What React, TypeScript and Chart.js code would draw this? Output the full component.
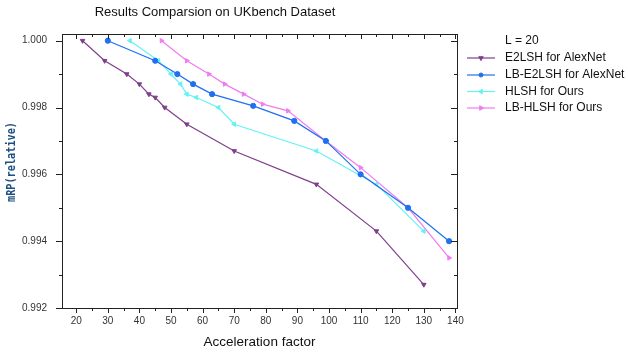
import React, { useEffect, useRef } from "react";
import { Chart, registerables } from "chart.js";

Chart.register(...registerables);

const TITLE = "Results Comparsion on UKbench Dataset";
const X_TITLE = "Acceleration factor";
const Y_TITLE_BOLD = "mRP";
const Y_TITLE_REST = "(relative)";
const LEGEND_HEADER = "L = 20";

const X_TICKS = [20, 30, 40, 50, 60, 70, 80, 90, 100, 110, 120, 130, 140];
const Y_TICKS = [0.992, 0.994, 0.996, 0.998, 1.0];

const SERIES_NAMES = ["E2LSH for AlexNet", "LB-E2LSH for AlexNet", "HLSH for Ours", "LB-HLSH for Ours"];
const SERIES_COLORS = ["#7f3f8c", "#1f6ff2", "#66f2f2", "#f07cf0"];

const E2LSH_X = [22, 29, 36, 40, 43, 45, 48, 55, 70, 96, 115, 130];
const E2LSH_Y = [1.0, 0.9994, 0.999, 0.9987, 0.9984, 0.9983, 0.998, 0.9975, 0.9967, 0.9957, 0.9943, 0.9927];

const LBE2LSH_X = [30, 45, 52, 57, 63, 76, 89, 99, 110, 125, 138];
const LBE2LSH_Y = [1.0, 0.9994, 0.999, 0.9987, 0.9984, 0.99805, 0.9976, 0.997, 0.996, 0.995, 0.994];

const HLSH_X = [37, 46, 50, 53, 55, 58, 65, 70, 96, 115, 130];
const HLSH_Y = [1.0, 0.9994, 0.999, 0.9987, 0.9984, 0.9983, 0.998, 0.9975, 0.9967, 0.9957, 0.9943];

const LBHLSH_X = [47, 55, 62, 67, 73, 79, 87, 99, 110, 125, 138];
const LBHLSH_Y = [1.0, 0.9994, 0.999, 0.9987, 0.9984, 0.9981, 0.9979, 0.997, 0.9962, 0.995, 0.9935];

const POINT_STYLES = ["triangle", "circle", "triangle", "triangle"];
const POINT_ROTATIONS = [180, 0, 270, 90];

const SANS = "'Liberation Sans', Arial, sans-serif";
const MONO = "'DejaVu Sans Mono', 'Liberation Mono', monospace";

const xs = [E2LSH_X, LBE2LSH_X, HLSH_X, LBHLSH_X];
const ys = [E2LSH_Y, LBE2LSH_Y, HLSH_Y, LBHLSH_Y];

function drawMarker(ctx: CanvasRenderingContext2D, style: string, rotation: number, r: number, x: number, y: number) {
  ctx.save();
  ctx.translate(x, y);
  ctx.rotate((rotation * Math.PI) / 180);
  ctx.beginPath();
  if (style === "circle") {
    ctx.arc(0, 0, r, 0, Math.PI * 2);
  } else {
    const s = r * 1.3;
    ctx.moveTo(0, -s);
    ctx.lineTo(s * 0.866, s * 0.5);
    ctx.lineTo(-s * 0.866, s * 0.5);
    ctx.closePath();
  }
  ctx.fill();
  ctx.stroke();
  ctx.restore();
}

const framePlugin = {
  id: "framePlugin",
  afterDraw(chart: any) {
    const ctx = chart.ctx;
    const { left, right, top, bottom } = chart.chartArea;
    const xs_ = chart.scales.x;
    const ys_ = chart.scales.y;
    ctx.save();
    ctx.strokeStyle = "#222";
    ctx.lineWidth = 1;
    ctx.strokeRect(Math.round(left) + 0.5, Math.round(top) + 0.5, Math.round(right - left), Math.round(bottom - top));
    ctx.beginPath();
    for (let v = 15; v <= 140; v += 5) {
      if (v < xs_.min || v > xs_.max) continue;
      const px = Math.round(xs_.getPixelForValue(v)) + 0.5;
      const major = v % 10 === 0;
      const len = major ? 5 : 3;
      ctx.moveTo(px, bottom);
      ctx.lineTo(px, bottom + len);
      ctx.moveTo(px, top);
      ctx.lineTo(px, top + len);
    }
    for (let i = 0; i <= 8; i++) {
      const v = 0.992 + i * 0.001;
      const py = Math.round(ys_.getPixelForValue(v)) + 0.5;
      const major = i % 2 === 0;
      const len = major ? 6 : 3;
      ctx.moveTo(left, py);
      ctx.lineTo(left - len, py);
      ctx.moveTo(right, py);
      ctx.lineTo(right - len, py);
    }
    ctx.stroke();

    // title
    ctx.fillStyle = "#111";
    ctx.textAlign = "center";
    ctx.textBaseline = "middle";
    ctx.font = `13px ${SANS}`;
    ctx.fillText(TITLE, 215, 12);

    // x title
    ctx.font = `13.5px ${SANS}`;
    ctx.fillText(X_TITLE, (left + right) / 2, 342);

    // y title
    ctx.save();
    ctx.translate(12, 162);
    ctx.rotate(-Math.PI / 2);
    ctx.fillStyle = "#1d4f82";
    ctx.font = `bold 13px ${MONO}`;
    const wb = ctx.measureText(Y_TITLE_BOLD).width;
    const wr = ctx.measureText(Y_TITLE_REST).width;
    const target = 80;
    const sx = target / (wb + wr);
    ctx.scale(sx, 1);
    const start = -(wb + wr) / 2;
    ctx.textAlign = "left";
    ctx.fillText(Y_TITLE_BOLD, start, 0);
    ctx.fillText(Y_TITLE_REST, start + wb, 0);
    ctx.restore();

    // legend
    ctx.textAlign = "left";
    ctx.font = `12px ${SANS}`;
    ctx.fillStyle = "#111";
    ctx.fillText(LEGEND_HEADER, 505, 41);
    const rowsY = [58, 75, 91.5, 108];
    SERIES_NAMES.forEach((name, i) => {
      const y = rowsY[i];
      ctx.strokeStyle = SERIES_COLORS[i];
      ctx.fillStyle = SERIES_COLORS[i];
      ctx.lineWidth = 1.2;
      ctx.beginPath();
      ctx.moveTo(467, y);
      ctx.lineTo(495, y);
      ctx.stroke();
      ctx.lineWidth = 1;
      drawMarker(ctx, POINT_STYLES[i], POINT_ROTATIONS[i], 2, 481, y);
      ctx.fillStyle = "#111";
      ctx.fillText(name, 505, y);
    });
    ctx.restore();
  },
};

export default function App() {
  const ref = useRef<HTMLCanvasElement | null>(null);
  useEffect(() => {
    if (!ref.current) return;
    const datasets = SERIES_NAMES.map((name, i) => ({
      label: name,
      data: xs[i].map((x, j) => ({ x, y: ys[i][j] })),
      borderColor: SERIES_COLORS[i],
      backgroundColor: SERIES_COLORS[i],
      borderWidth: 1.2,
      pointStyle: POINT_STYLES[i],
      pointRotation: POINT_ROTATIONS[i],
      pointRadius: 2.6,
      pointBorderWidth: 1,
      tension: 0,
      fill: false,
    }));
    const chart = new Chart(ref.current, {
      type: "line",
      data: { datasets } as any,
      plugins: [framePlugin],
      options: {
        animation: false,
        responsive: false,
        maintainAspectRatio: false,
        layout: { padding: { top: 34, right: 171, left: 0, bottom: 0 } },
        plugins: { legend: { display: false }, title: { display: false }, tooltip: { enabled: false } },
        scales: {
          x: {
            type: "linear",
            min: 15.5,
            max: 140.5,
            afterBuildTicks: (s: any) => {
              s.ticks = X_TICKS.map((v) => ({ value: v }));
            },
            afterFit: (s: any) => {
              s.height = 44;
            },
            grid: { display: false, drawTicks: false },
            border: { display: false },
            ticks: {
              padding: 7,
              color: "#333",
              font: { size: 10, family: SANS },
              maxRotation: 0,
              autoSkip: false,
            },
          },
          y: {
            type: "linear",
            min: 0.992,
            max: 1.0002,
            afterBuildTicks: (s: any) => {
              s.ticks = Y_TICKS.map((v) => ({ value: v }));
            },
            afterFit: (s: any) => {
              s.width = 62;
            },
            grid: { display: false, drawTicks: false },
            border: { display: false },
            ticks: {
              padding: 15,
              color: "#333",
              font: { size: 10, family: SANS },
              callback: (v: any) => Number(v).toFixed(3),
            },
          },
        },
      } as any,
    });
    return () => chart.destroy();
  }, []);
  return (
    <canvas
      ref={ref}
      width={628}
      height={352}
      style={{ position: "fixed", left: 0, top: 0, width: 628, height: 352, background: "#fff" }}
    />
  );
}
